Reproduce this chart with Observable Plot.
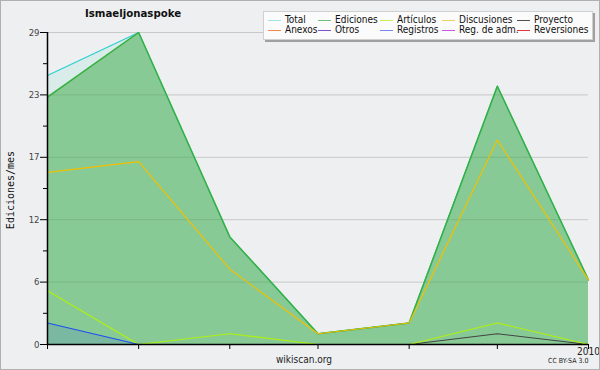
<!DOCTYPE html>
<html><head><meta charset="utf-8">
<script src="https://cdn.jsdelivr.net/npm/d3@7"></script>
<script src="https://cdn.jsdelivr.net/npm/@observablehq/plot@0.6"></script>
<style>
body{margin:0;font-family:"DejaVu Sans Condensed","DejaVu Sans",sans-serif;}
#wrap{position:relative;width:600px;height:370px;background:#eeeff1;overflow:hidden}
.abs{position:absolute;white-space:nowrap}
#frame{position:absolute;left:0;top:0;width:600px;height:370px;box-sizing:border-box;border:1px solid #b0b0b0;pointer-events:none}
#legend{position:absolute;left:263px;top:11px;width:328px;height:27px;background:#fbfbfb;border:1px solid #d0d0d0;box-shadow:2px 2px 0 #a0a0a0;font-size:10px;color:#111}
.li{position:absolute;height:10px;line-height:10px;white-space:nowrap}
.sw{position:absolute;top:5px;width:13px;height:1px}
.lt{position:absolute;left:17px;top:0;white-space:nowrap}
</style></head>
<body>
<div id="wrap">
<div id="plot"></div>
<div class="abs" style="left:85px;top:8px;font-family:'DejaVu Sans',sans-serif;font-weight:bold;font-size:10.2px;color:#111">Ismaeljonaspoke</div>
<div class="abs" style="left:10px;top:190px;font-family:'DejaVu Sans Mono',monospace;font-size:10px;color:#111;transform:translate(-50%,-50%) rotate(-90deg)">Ediciones/mes</div>
<div class="abs" style="left:276px;top:354px;font-size:10px;color:#222">wikiscan.org</div>
<div class="abs" style="left:548px;top:357px;font-size:7px;color:#222">CC BY-SA 3.0</div>
<div id="legend"></div>
<div id="frame"></div>
</div>
<script>
const months = ["2009-07-01","2009-08-01","2009-09-01","2009-10-01","2009-11-01","2009-12-01","2010-01-01"];
const total = [25, 29, 10, 1, 2, 24, 6];
const ediciones = [23, 29, 10, 1, 2, 24, 6];
const articulos = [5, 0, 1, 0, 0, 2, 0];
const discusiones = [16, 17, 7, 1, 2, 19, 6];
const proyecto = [0, 0, 0, 0, 0, 1, 0];
const registros = [2, 0, 0, 0, 0, 0, 0];

const legendNames = ["Total","Ediciones","Artículos","Discusiones","Proyecto","Anexos","Otros","Registros","Reg. de adm.","Reversiones"];
const legendColors = ["#a0e4e4","#70c080","#c8f050","#f0d060","#505050","#f08848","#8050d0","#7888f0","#c858e0","#e03838"];

const yMax = 29;
const majorTicks = d3.range(0, 6).map(k => yMax * k / 5);
const minorTicks = d3.range(0, 5).map(k => yMax * (k + 0.5) / 5);

const dates = months.map(m => new Date(m + "T00:00:00Z"));
const rows = dates.map((d, i) => ({date: d, total: total[i], ediciones: ediciones[i], articulos: articulos[i],
  discusiones: discusiones[i], proyecto: proyecto[i], registros: registros[i]}));

const plot = Plot.plot({
  width: 600, height: 370,
  marginLeft: 47, marginRight: 12, marginTop: 32, marginBottom: 26,
  style: {background: "transparent", fontFamily: "'DejaVu Sans Condensed','DejaVu Sans',sans-serif", fontSize: "10px", color: "#333"},
  x: {type: "utc", domain: [dates[0], dates[dates.length - 1]]},
  y: {domain: [0, yMax]},
  marks: [
    Plot.ruleY(majorTicks.slice(1), {stroke: "#c8c8c8", strokeWidth: 1}),
    Plot.areaY(rows, {x: "date", y: "total", fill: "#40d8c0", fillOpacity: 0.12}),
    Plot.areaY(rows, {x: "date", y: "ediciones", fill: "#38a73f", fillOpacity: 0.5}),
    Plot.areaY(rows, {x: "date", y: "registros", fill: "#3050f0", fillOpacity: 0.15}),
    Plot.lineY(rows, {x: "date", y: "total", stroke: "#30d0d0", strokeWidth: 1.2}),
    Plot.lineY(rows, {x: "date", y: "ediciones", stroke: "#38b040", strokeWidth: 1.5}),
    Plot.lineY(rows, {x: "date", y: "proyecto", stroke: "#444", strokeWidth: 1.2}),
    Plot.lineY(rows, {x: "date", y: "articulos", stroke: "#b0f010", strokeWidth: 1.2}),
    Plot.lineY(rows, {x: "date", y: "discusiones", stroke: "#f0c000", strokeWidth: 1.2}),
    Plot.lineY(rows, {x: "date", y: "registros", stroke: "#2050f0", strokeWidth: 1.2}),
    Plot.axisY({ticks: majorTicks, tickFormat: d => String(Math.round(d)), tickSize: 7, tickPadding: 1, label: null, stroke: "#000", color: "#444", fontSize: 9.5}),
    Plot.axisY({ticks: minorTicks, tickFormat: () => "", tickSize: 4, label: null, stroke: "#000"}),
    Plot.axisX({ticks: dates, tickFormat: d => d.getUTCMonth() === 0 ? String(d.getUTCFullYear()) : "", tickSize: 5, tickPadding: -2, label: null, stroke: "#000", color: "#222", fontSize: 10}),
    Plot.ruleX([dates[0]], {stroke: "#000", strokeWidth: 1.5}),
    Plot.ruleY([0], {stroke: "#000", strokeWidth: 1.5})
  ]
});
document.getElementById("plot").appendChild(plot);

const leg = document.getElementById("legend");
const colX = [4, 54, 116, 178, 253];
legendNames.forEach((n, i) => {
  const r = Math.floor(i / 5), c = i % 5;
  const el = document.createElement("div");
  el.className = "li";
  el.style.left = colX[c] + "px";
  el.style.top = (3 + r * 10) + "px";
  el.innerHTML = `<div class="sw" style="background:${legendColors[i]}"></div><div class="lt">${n}</div>`;
  leg.appendChild(el);
});
</script>
</body></html>
